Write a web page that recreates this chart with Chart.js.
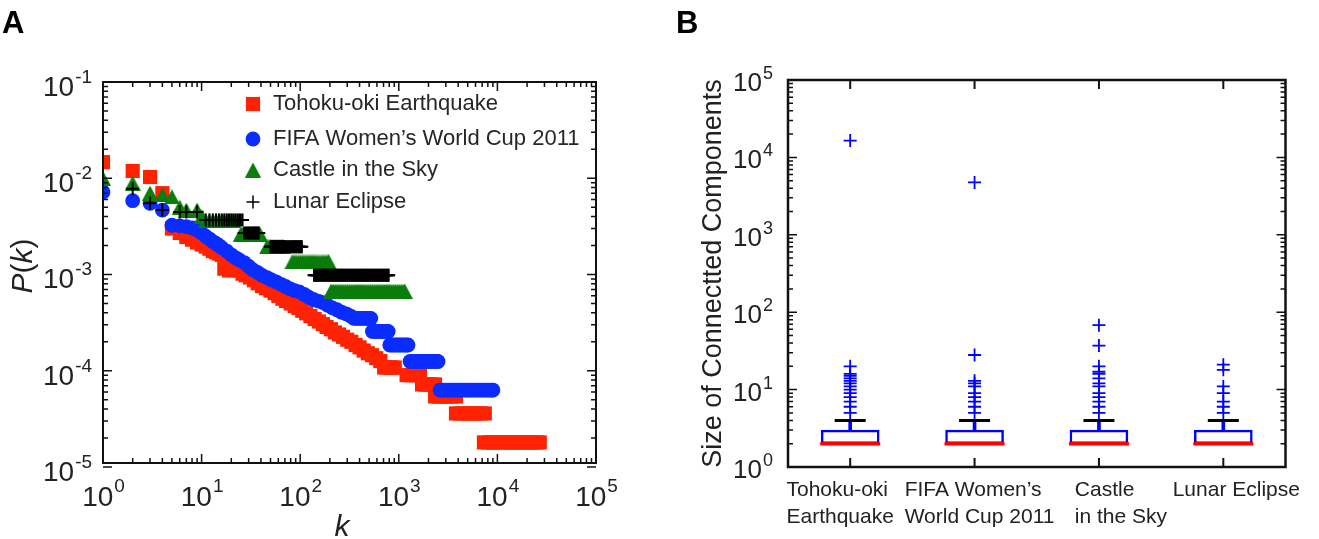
<!DOCTYPE html>
<html>
<head>
<meta charset="utf-8">
<script src="https://cdn.jsdelivr.net/npm/chart.js@4.4.1/dist/chart.umd.min.js"></script>
<style>
  html, body { margin: 0; padding: 0; background: #fff; }
  #wrap { position: relative; width: 1319px; height: 539px; }
  #degreeChart { position: absolute; left: 0; top: 0; }
  #componentChart { position: absolute; left: 660px; top: 0; }
</style>
</head>
<body>
<div id="wrap">
  <canvas id="degreeChart" width="660" height="539"></canvas>
  <canvas id="componentChart" width="659" height="539"></canvas>
</div>
<script>
// Event names (legend of A, categories of B)
const eventNames = ['Tohoku-oki Earthquake', 'FIFA Women’s World Cup 2011', 'Castle in the Sky', 'Lunar Eclipse'];
const categoryLines = [['Tohoku-oki', 'Earthquake'], ['FIFA Women’s', 'World Cup 2011'], ['Castle', 'in the Sky'], ['Lunar Eclipse']];

// Axis ticks
const kTickValues = [1, 10, 100, 1000, 10000, 100000];
const kTickExps = ['0', '1', '2', '3', '4', '5'];
const pTickValues = [1e-1, 1e-2, 1e-3, 1e-4, 1e-5];
const pTickExps = ['-1', '-2', '-3', '-4', '-5'];
const sizeTickValues = [1, 10, 100, 1000, 10000, 100000];
const sizeTickExps = ['0', '1', '2', '3', '4', '5'];

// ---- A: degree distributions ----
// Tohoku-oki Earthquake
const tohokuK = [1, 2, 3, 4, 5, 6, 7, 8, 9, 10, 11, 12, 13, 14, 15, 16, 17, 18, 19, 20,
  22, 24, 26, 28, 31, 34, 37, 41, 45, 50, 55, 60, 66, 72, 80, 88, 96, 105, 115,
  127, 140, 155, 170, 185, 205, 225, 248, 272, 300, 330, 365, 400, 440, 485, 535, 590, 650];
const tohokuP = [1.47e-2, 1.19e-2, 1.03e-2, 7.0e-3, 3.0e-3, 2.7e-3, 2.45e-3, 2.3e-3, 2.15e-3, 2.05e-3,
  1.95e-3, 1.85e-3, 1.75e-3, 1.7e-3, 1.65e-3, 1.6e-3, 1.15e-3, 1.5e-3, 1.1e-3, 1.3e-3,
  1.18e-3, 1.1e-3, 1.02e-3, 9.8e-4, 9.3e-4, 8.7e-4, 8.1e-4, 7.6e-4, 7.2e-4, 6.8e-4, 6.4e-4, 6.0e-4,
  5.6e-4, 5.3e-4, 5.0e-4, 4.7e-4, 4.5e-4, 4.2e-4, 3.95e-4, 3.7e-4, 3.45e-4, 3.25e-4, 3.05e-4,
  2.85e-4, 2.7e-4, 2.5e-4, 2.38e-4, 2.25e-4, 2.1e-4, 2.0e-4, 1.85e-4, 1.75e-4, 1.62e-4, 1.52e-4,
  1.45e-4, 1.35e-4, 1.26e-4];
const tohokuLevels = [1.08e-4, 9.0e-5, 7.2e-5, 5.4e-5, 3.6e-5, 1.8e-5];
const tohokuLevelK = [
  [710, 760, 810, 860, 910],
  [1200, 1300, 1400, 1500, 1640],
  [1720, 1850, 2000, 2150, 2330],
  [2330, 2550, 2800, 3100, 3400, 3800],
  [3800, 4200, 4650, 5100, 5600, 6200, 6800, 7450],
  [7300, 8100, 9000, 10000, 11100, 12300, 13700, 15200, 16900, 18800, 20900, 23200, 25000, 26900]
];

// FIFA Women's World Cup 2011
const fifaK = [1, 2, 3, 4, 5, 6, 7, 8, 9, 10, 11, 12, 13, 14, 15, 16, 18, 20, 22, 24,
  27, 30, 33, 37, 41, 46, 51, 57, 64, 71, 79, 88, 98, 110, 122, 136, 152, 170, 190, 212,
  236, 263, 293, 325];
const fifaP = [7.2e-3, 5.85e-3, 5.5e-3, 4.67e-3, 3.25e-3, 3.2e-3, 3.15e-3, 3.05e-3, 2.9e-3, 2.7e-3,
  2.5e-3, 2.35e-3, 2.2e-3, 2.1e-3, 2.0e-3, 1.9e-3, 1.75e-3, 1.6e-3, 1.5e-3, 1.42e-3,
  1.33e-3, 1.22e-3, 1.12e-3, 1.05e-3, 9.8e-4, 9.3e-4, 8.8e-4, 8.4e-4, 7.9e-4, 7.5e-4,
  7.1e-4, 6.8e-4, 6.6e-4, 6.2e-4, 5.8e-4, 5.5e-4, 5.3e-4, 5.1e-4, 4.8e-4, 4.5e-4,
  4.3e-4, 4.05e-4, 3.9e-4, 3.7e-4];
const fifaLevels = [3.5e-4, 2.56e-4, 1.85e-4, 1.25e-4, 6.3e-5];
const fifaLevelK = [
  [350, 370, 390, 410, 430, 452, 475, 500, 520],
  [540, 567, 595, 625, 656, 689, 723, 760, 780],
  [810, 850, 893, 937, 984, 1030, 1085, 1140, 1195, 1240],
  [1300, 1365, 1430, 1500, 1580, 1660, 1740, 1830, 1920, 2015, 2115, 2220, 2330, 2450, 2500],
  [2620, 2750, 2890, 3030, 3180, 3340, 3510, 3690, 3870, 4060, 4270, 4480, 4700, 4940,
   5180, 5440, 5720, 6000, 6300, 6620, 6950, 7300, 7660, 8050, 8450, 8870, 9000]
];

// Castle in the Sky
const castleK = [1, 2, 3, 4, 5, 6, 7, 9, 10];
const castleP = [1.0e-2, 8.9e-3, 7.0e-3, 6.7e-3, 6.4e-3, 5.0e-3, 4.67e-3, 4.67e-3, 4.0e-3];
const castleLevels = [3.6e-3, 2.63e-3, 1.94e-3, 1.35e-3, 6.7e-4];
const castleLevelK = [
  [11, 12, 13, 14, 15, 16, 17, 18, 19, 20, 21],
  [25, 26, 27, 28, 29, 30, 31, 32, 33, 34, 35, 36, 37, 38, 39],
  [46, 48, 50, 52, 55, 58, 61, 64, 67],
  [83, 87, 91, 96, 101, 106, 111, 117, 123, 129, 135, 142, 149, 157, 165, 173, 182, 191, 195],
  [205, 215, 226, 237, 249, 261, 274, 288, 302, 317, 333, 350, 367, 385, 404, 424, 445, 467,
   490, 515, 540, 567, 595, 625, 656, 689, 723, 759, 797, 837, 879, 923, 969, 1017, 1068, 1121, 1150]
];

// Lunar Eclipse
const lunarK = [2, 3, 4, 6, 7, 9];
const lunarP = [7.8e-3, 5.5e-3, 4.67e-3, 4.45e-3, 4.45e-3, 4.45e-3];
const lunarLevels = [3.68e-3, 2.7e-3, 1.94e-3, 9.8e-4];
const lunarLevelK = [
  [11, 12, 13, 14, 15, 16, 17, 18, 19, 20, 21, 22, 23, 24, 25, 26],
  [27, 28, 29, 30, 31, 32, 33, 34, 35, 36, 37, 38],
  [50, 51, 52, 53, 54, 55, 56, 57, 58, 59, 60, 61, 62, 63, 64, 65, 66, 67, 68, 69, 70,
   72, 74, 76, 78, 80, 82, 84, 86, 88, 90, 92, 94, 96, 98, 100, 102, 104],
  [138, 141, 145, 148, 152, 156, 160, 164, 168, 172, 176, 180, 185, 190, 194, 199, 204, 209,
   214, 219, 225, 230, 236, 242, 248, 254, 260, 266, 273, 280, 287, 294, 301, 308, 316, 324,
   332, 340, 349, 357, 366, 375, 384, 393, 403, 413, 423, 433, 444, 455, 466, 477, 489, 501,
   513, 526, 539, 552, 566, 580, 594, 609, 624, 639, 655, 671, 688, 705, 722, 740, 758, 776, 790]
];

// ---- B: connected component sizes ----
const boxLow = [2, 2, 2, 2];
const boxHigh = [3, 3, 3, 3];
const medians = [2, 2, 2, 2];
const whiskerHigh = [4, 4, 4, 4];
const tohokuOutliers = [5, 6, 7, 8, 9, 10, 11, 12, 13, 14, 15, 16, 20, 16500];
const fifaOutliers = [5, 6, 7, 8, 9, 11, 12, 13, 28, 4750];
const castleOutliers = [5, 6, 7, 8, 9, 11, 12, 14, 16, 17, 20, 37, 68];
const lunarOutliers = [5, 6, 7, 9, 11, 18, 21];

const FONT = '"Liberation Sans", Arial, Helvetica, sans-serif';
const ink = '#222222';

// single points plus the flat runs at the tail
function buildPoints(ks, ps, levels, levelKs) {
  const pts = ks.map((k, i) => ({ x: k, y: ps[i] }));
  levels.forEach((p, j) => levelKs[j].forEach(k => pts.push({ x: k, y: p })));
  return pts;
}

// filled triangle marker, a little taller than the built-in one
function makeTriangle(color, w, h) {
  const c = document.createElement('canvas');
  c.width = w;
  c.height = h;
  const g = c.getContext('2d');
  g.fillStyle = color;
  g.beginPath();
  g.moveTo(w / 2, 0);
  g.lineTo(w, h);
  g.lineTo(0, h);
  g.closePath();
  g.fill();
  return c;
}

// "10" with a raised exponent
function drawPower(ctx, exp, x, baseline, align, mainPx, supPx, rise) {
  ctx.font = mainPx + 'px ' + FONT;
  const wMain = ctx.measureText('10').width;
  ctx.font = supPx + 'px ' + FONT;
  const wSup = ctx.measureText(exp).width;
  const left = align === 'center' ? x - (wMain + wSup) / 2 : x;
  ctx.textAlign = 'left';
  ctx.textBaseline = 'alphabetic';
  ctx.font = mainPx + 'px ' + FONT;
  ctx.fillText('10', left, baseline);
  ctx.font = supPx + 'px ' + FONT;
  ctx.fillText(exp, left + wMain + 1, baseline - rise);
}

// inward tick marks on both sides of a log axis
function drawLogTicks(ctx, scale, majors, horizontal, a, majorLen, minorLen) {
  ctx.beginPath();
  const mark = (val, len) => {
    const p = scale.getPixelForValue(val);
    if (horizontal) {
      ctx.moveTo(p, a.bottom); ctx.lineTo(p, a.bottom - len);
      ctx.moveTo(p, a.top); ctx.lineTo(p, a.top + len);
    } else {
      ctx.moveTo(a.left, p); ctx.lineTo(a.left + len, p);
      ctx.moveTo(a.right, p); ctx.lineTo(a.right - len, p);
    }
  };
  majors.forEach((v, i) => {
    mark(v, majorLen);
    if (i + 1 < majors.length) {
      const low = Math.min(v, majors[i + 1]);
      for (let m = 2; m <= 9; m++) {
        const p = scale.getPixelForValue(low * m);
        const inside = horizontal ? (p > a.left && p < a.right) : (p > a.top && p < a.bottom);
        if (inside) mark(low * m, minorLen);
      }
    }
  });
  ctx.stroke();
}

const markerStyles = [
  { color: '#ff2200', pointStyle: 'rect', radius: 10, borderWidth: 0, legendWidth: 0 },
  { color: '#0b2cff', pointStyle: 'circle', radius: 7.4, borderWidth: 0, legendWidth: 0 },
  { color: '#0a7d0a', pointStyle: makeTriangle('#0a7d0a', 16, 15), radius: 8, borderWidth: 0, legendWidth: 0 },
  { color: '#000000', pointStyle: 'cross', radius: 6.5, borderWidth: 2, legendWidth: 1.5 }
];
const legendRows = [104, 139, 170, 202];

const degreeFrame = {
  id: 'degreeFrame',
  afterDraw(chart) {
    const { ctx, chartArea: a } = chart;
    const x = chart.scales.x, y = chart.scales.y;
    ctx.save();
    ctx.strokeStyle = '#111';
    ctx.lineWidth = 2;
    ctx.strokeRect(a.left, a.top, a.right - a.left, a.bottom - a.top);
    ctx.lineWidth = 1.5;
    drawLogTicks(ctx, x, kTickValues, true, a, 9, 5);
    drawLogTicks(ctx, y, pTickValues, false, a, 9, 5);

    ctx.fillStyle = ink;
    kTickValues.forEach((v, i) => drawPower(ctx, kTickExps[i], x.getPixelForValue(v), 506, 'center', 28, 19, 14));
    pTickValues.forEach((v, i) => drawPower(ctx, pTickExps[i], 43, y.getPixelForValue(v) + 14, 'left', 28, 19, 13));

    // axis titles
    ctx.textAlign = 'center';
    ctx.textBaseline = 'alphabetic';
    ctx.font = 'italic 30px ' + FONT;
    ctx.fillText('k', 342, 536);

    ctx.save();
    ctx.translate(24, 266);
    ctx.rotate(-Math.PI / 2);
    const parts = [['P', true], ['(', false], ['k', true], [')', false]];
    let total = 0;
    parts.forEach(([t, it]) => { ctx.font = (it ? 'italic ' : '') + '30px ' + FONT; total += ctx.measureText(t).width; });
    let cx = -total / 2;
    ctx.textAlign = 'left';
    ctx.textBaseline = 'middle';
    parts.forEach(([t, it]) => {
      ctx.font = (it ? 'italic ' : '') + '30px ' + FONT;
      ctx.fillText(t, cx, 0);
      cx += ctx.measureText(t).width;
    });
    ctx.restore();

    // legend
    eventNames.forEach((name, i) => {
      const s = markerStyles[i];
      ctx.fillStyle = s.color;
      ctx.strokeStyle = s.color;
      ctx.lineWidth = s.legendWidth;
      Chart.helpers.drawPoint(ctx, { pointStyle: s.pointStyle, radius: s.radius, rotation: 0, borderWidth: s.legendWidth }, 253, legendRows[i]);
      ctx.fillStyle = '#262626';
      ctx.font = '22px ' + FONT;
      ctx.textAlign = 'left';
      ctx.textBaseline = 'middle';
      ctx.fillText(name, 273, legendRows[i]);
    });

    // panel letter
    ctx.fillStyle = '#000';
    ctx.font = 'bold 31px ' + FONT;
    ctx.textAlign = 'left';
    ctx.textBaseline = 'alphabetic';
    ctx.fillText('A', 2, 33);
    ctx.restore();
  }
};

const seriesPoints = [
  buildPoints(tohokuK, tohokuP, tohokuLevels, tohokuLevelK),
  buildPoints(fifaK, fifaP, fifaLevels, fifaLevelK),
  buildPoints(castleK, castleP, castleLevels, castleLevelK),
  buildPoints(lunarK, lunarP, lunarLevels, lunarLevelK)
];

new Chart(document.getElementById('degreeChart'), {
  type: 'scatter',
  data: {
    datasets: eventNames.map((name, i) => ({
      label: name,
      data: seriesPoints[i],
      pointStyle: markerStyles[i].pointStyle,
      pointRadius: markerStyles[i].radius,
      pointBackgroundColor: markerStyles[i].color,
      pointBorderColor: markerStyles[i].color,
      pointBorderWidth: markerStyles[i].borderWidth,
      backgroundColor: markerStyles[i].color,
      borderColor: markerStyles[i].color,
      clip: 0,
      order: 4 - i
    }))
  },
  options: {
    responsive: false,
    animation: false,
    events: [],
    layout: { padding: { left: 103, top: 82, right: 64, bottom: 76 } },
    plugins: { legend: { display: false }, tooltip: { enabled: false } },
    scales: {
      x: {
        type: 'logarithmic', min: 1, max: 1e5,
        grid: { display: false, drawTicks: false }, border: { display: false }, ticks: { display: false }
      },
      y: {
        type: 'logarithmic', min: 1.1e-5, max: 1e-1,
        grid: { display: false, drawTicks: false }, border: { display: false }, ticks: { display: false }
      }
    }
  },
  plugins: [degreeFrame]
});

// ---- B: box plot ----
const boxBlue = '#0000ff';
const labelShift = [-10, 5, 22, 13];   // hand placement of the category label blocks
const outlierLists = [tohokuOutliers, fifaOutliers, castleOutliers, lunarOutliers];
const outlierPoints = [];
outlierLists.forEach((list, i) => list.forEach(v => outlierPoints.push({ x: eventNames[i], y: v })));

const componentFrame = {
  id: 'componentFrame',
  afterDraw(chart) {
    const { ctx, chartArea: a } = chart;
    const x = chart.scales.x, y = chart.scales.y;
    ctx.save();
    ctx.strokeStyle = '#111';
    ctx.lineWidth = 2.5;
    ctx.strokeRect(a.left, a.top, a.right - a.left, a.bottom - a.top);
    ctx.lineWidth = 1.5;
    drawLogTicks(ctx, y, sizeTickValues, false, a, 9, 5);
    ctx.lineWidth = 2;
    ctx.beginPath();
    eventNames.forEach((n, i) => {
      const p = x.getPixelForValue(i);
      ctx.moveTo(p, a.bottom); ctx.lineTo(p, a.bottom - 9);
      ctx.moveTo(p, a.top); ctx.lineTo(p, a.top + 9);
    });
    ctx.stroke();

    ctx.fillStyle = ink;
    sizeTickValues.forEach((v, i) => drawPower(ctx, sizeTickExps[i], 733 - 660, y.getPixelForValue(v) + 11, 'left', 26, 18, 12));

    // category labels, lines left-aligned inside a block
    ctx.font = '21px ' + FONT;
    ctx.textAlign = 'left';
    ctx.textBaseline = 'alphabetic';
    categoryLines.forEach((lines, i) => {
      const w = Math.max(...lines.map(t => ctx.measureText(t).width));
      const left = x.getPixelForValue(i) - w / 2 + labelShift[i];
      lines.forEach((t, j) => ctx.fillText(t, left, 496 + j * 27));
    });

    ctx.save();
    ctx.translate(714 - 660, (a.top + a.bottom) / 2);
    ctx.rotate(-Math.PI / 2);
    ctx.font = '27px ' + FONT;
    ctx.textAlign = 'center';
    ctx.textBaseline = 'middle';
    ctx.fillText('Size of Connectted Components', 0, 0);
    ctx.restore();

    ctx.fillStyle = '#000';
    ctx.font = 'bold 31px ' + FONT;
    ctx.textAlign = 'left';
    ctx.textBaseline = 'alphabetic';
    ctx.fillText('B', 676 - 660, 33);
    ctx.restore();
  }
};

new Chart(document.getElementById('componentChart'), {
  type: 'bar',
  data: {
    labels: eventNames,
    datasets: [
      {
        type: 'line', label: 'median', data: medians, showLine: false,
        pointStyle: 'line', pointRadius: 30, pointBorderColor: '#ff0000', borderColor: '#ff0000',
        pointBorderWidth: 3.5, order: 0
      },
      {
        type: 'line', label: 'whisker cap', data: whiskerHigh, showLine: false,
        pointStyle: 'line', pointRadius: 15.5, pointBorderColor: '#000000', borderColor: '#000000',
        pointBorderWidth: 3, order: 1
      },
      {
        type: 'line', label: 'outliers', data: outlierPoints, showLine: false,
        pointStyle: 'cross', pointRadius: 6.5, pointBorderColor: boxBlue, borderColor: boxBlue,
        pointBorderWidth: 1.8, order: 2
      },
      {
        type: 'bar', label: 'whisker', data: boxHigh.map((h, i) => [h, whiskerHigh[i]]),
        barThickness: 3, grouped: false, backgroundColor: boxBlue, borderWidth: 0, order: 3
      },
      {
        type: 'bar', label: 'box', data: boxLow.map((l, i) => [l, boxHigh[i]]),
        barThickness: 58, grouped: false, backgroundColor: '#ffffff', borderColor: boxBlue,
        borderWidth: 2.5, borderSkipped: false, order: 4
      }
    ]
  },
  options: {
    responsive: false,
    animation: false,
    events: [],
    layout: { padding: { left: 128, top: 80, right: 29, bottom: 72 } },
    plugins: { legend: { display: false }, tooltip: { enabled: false } },
    scales: {
      x: {
        type: 'category', offset: true,
        grid: { display: false, drawTicks: false }, border: { display: false }, ticks: { display: false }
      },
      y: {
        type: 'logarithmic', min: 1, max: 1e5,
        grid: { display: false, drawTicks: false }, border: { display: false }, ticks: { display: false }
      }
    }
  },
  plugins: [componentFrame]
});
</script>
</body>
</html>
